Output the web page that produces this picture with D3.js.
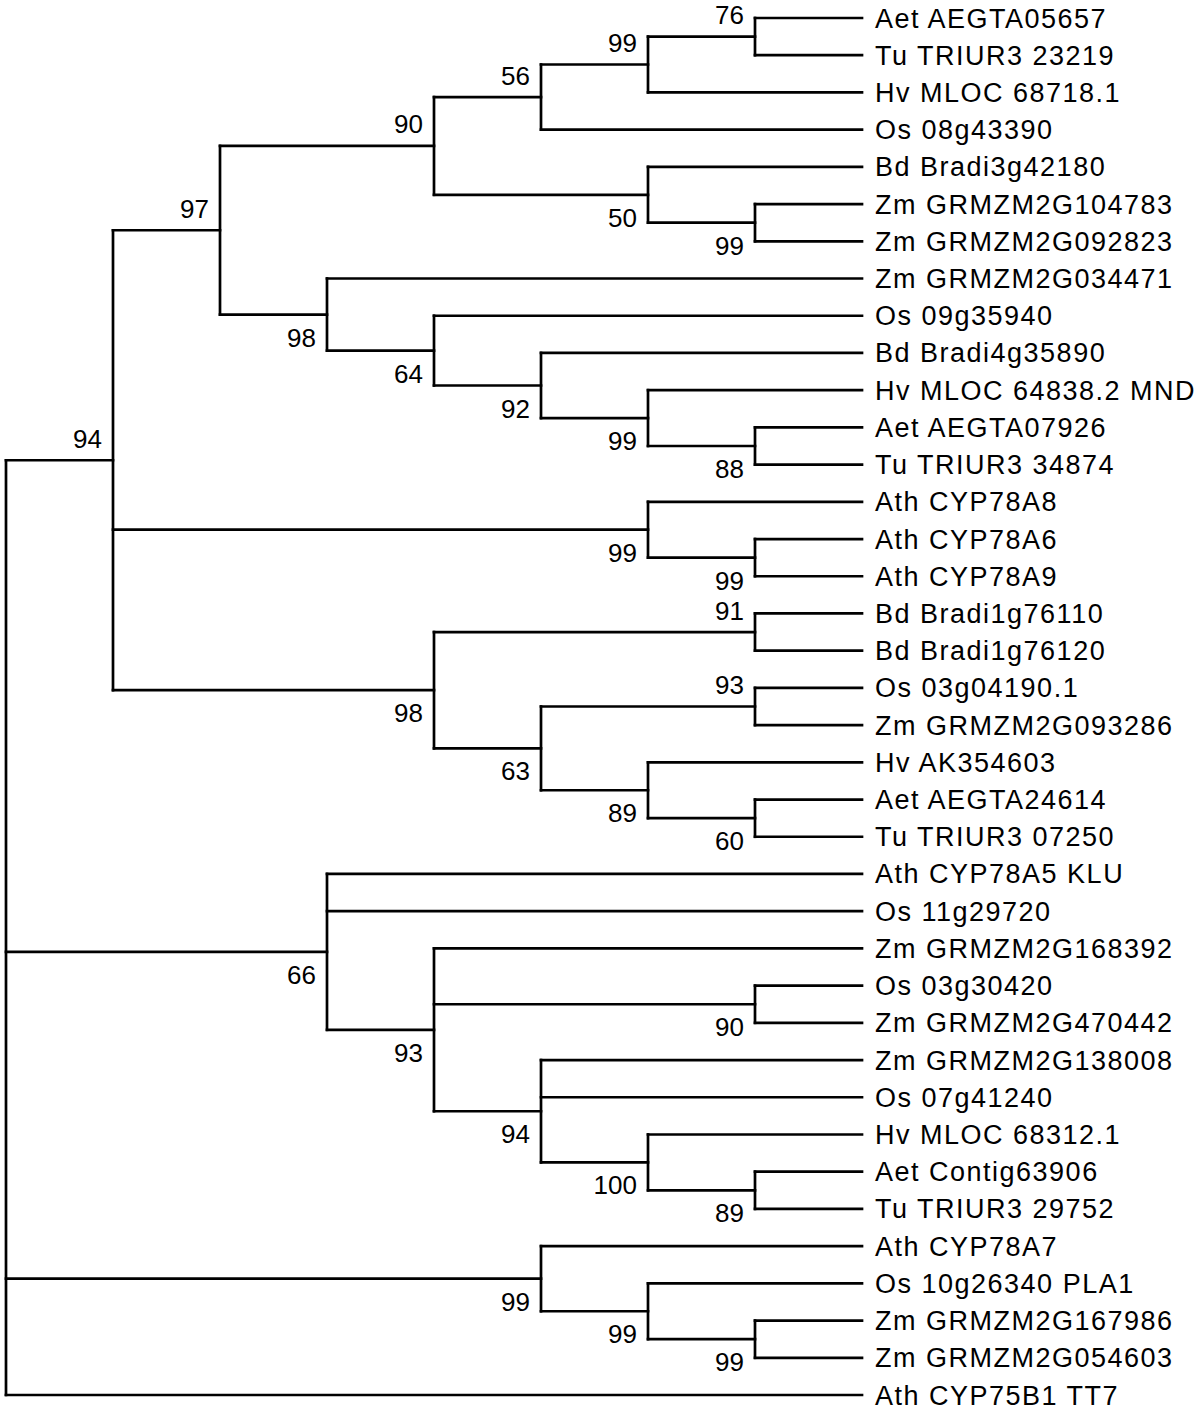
<!DOCTYPE html>
<html>
<head>
<meta charset="utf-8">
<script src="https://cdn.jsdelivr.net/npm/d3@7"></script>
<style>
  html, body { margin: 0; padding: 0; background: #fff; }
  svg { display: block; }
</style>
</head>
<body>
<svg id="chart" width="1200" height="1411"></svg>
<script>
// ---- DATA ----
const leafNames = [
  "Aet AEGTA05657", "Tu TRIUR3 23219", "Hv MLOC 68718.1", "Os 08g43390",
  "Bd Bradi3g42180", "Zm GRMZM2G104783", "Zm GRMZM2G092823", "Zm GRMZM2G034471",
  "Os 09g35940", "Bd Bradi4g35890", "Hv MLOC 64838.2 MND", "Aet AEGTA07926",
  "Tu TRIUR3 34874", "Ath CYP78A8", "Ath CYP78A6", "Ath CYP78A9",
  "Bd Bradi1g76110", "Bd Bradi1g76120", "Os 03g04190.1", "Zm GRMZM2G093286",
  "Hv AK354603", "Aet AEGTA24614", "Tu TRIUR3 07250", "Ath CYP78A5 KLU",
  "Os 11g29720", "Zm GRMZM2G168392", "Os 03g30420", "Zm GRMZM2G470442",
  "Zm GRMZM2G138008", "Os 07g41240", "Hv MLOC 68312.1", "Aet Contig63906",
  "Tu TRIUR3 29752", "Ath CYP78A7", "Os 10g26340 PLA1", "Zm GRMZM2G167986",
  "Zm GRMZM2G054603", "Ath CYP75B1 TT7"
];
// topology (leaf indices) with bootstrap support values on internal nodes
const treeNewick =
  "(((((((0,1)76,2)99,3)56,(4,(5,6)99)50)90,(7,(8,(9,(10,(11,12)88)99)92)64)98)97," +
  "(13,(14,15)99)99,((16,17)91,((18,19)93,(20,(21,22)60)89)63)98)94," +
  "(23,24,(25,(26,27)90,(28,29,(30,(31,32)89)100)94)93)66," +
  "(33,(34,(35,36)99)99)99,37);";

// ---- PARSE ----
function parseNewick(s) {
  let i = 0;
  function node() {
    const n = {};
    if (s[i] === "(") {
      i++;
      n.children = [];
      n.children.push(node());
      while (s[i] === ",") { i++; n.children.push(node()); }
      i++; // ')'
    }
    let label = "";
    while (i < s.length && !",();".includes(s[i])) label += s[i++];
    if (n.children) n.support = label; else n.leaf = +label;
    return n;
  }
  return node();
}

const root = d3.hierarchy(parseNewick(treeNewick));

// ---- SCALES ----
const xScale = d3.scaleLinear().domain([root.height, 0]).range([6, 862]);
const yScale = d3.scaleLinear().domain([0, leafNames.length - 1]).range([18, 1395]);

root.eachAfter(n => {
  n.px = xScale(n.height);
  if (!n.children) n.py = yScale(n.data.leaf);
  else n.py = (n.children[0].py + n.children[n.children.length - 1].py) / 2;
});

const svg = d3.select("#chart");
svg.append("rect").attr("width", 1200).attr("height", 1411).attr("fill", "#fff");

const g = svg.append("g");

// vertical connectors
g.selectAll("path.v")
  .data(root.descendants().filter(d => d.children))
  .join("path")
  .attr("class", "v")
  .attr("d", d => `M${d.px},${d.children[0].py}V${d.children[d.children.length - 1].py}`)
  .attr("stroke", "#000").attr("stroke-width", 2.7).attr("fill", "none")
  .attr("stroke-linecap", "square");

// horizontal branches
g.selectAll("path.h")
  .data(root.descendants().filter(d => d.parent))
  .join("path")
  .attr("class", "h")
  .attr("d", d => `M${d.parent.px},${d.py}H${d.px}`)
  .attr("stroke", "#000").attr("stroke-width", 2.7).attr("fill", "none")
  .attr("stroke-linecap", "square");

// leaf labels
g.selectAll("text.leaf")
  .data(root.leaves())
  .join("text")
  .attr("class", "leaf")
  .attr("x", d => d.px + 13)
  .attr("y", d => d.py + 9.5)
  .attr("font-family", "'Liberation Sans', Arial, sans-serif")
  .attr("font-size", 27)
  .attr("letter-spacing", 1.5)
  .attr("fill", "#000")
  .text(d => leafNames[d.data.leaf]);

// bootstrap labels
g.selectAll("text.bs")
  .data(root.descendants().filter(d => d.parent && d.children && d.data.support))
  .join("text")
  .attr("class", "bs")
  .attr("x", d => d.px - 11)
  .attr("y", d => d.parent.children[0] === d ? d.py - 12.5 : d.py + 32)
  .attr("text-anchor", "end")
  .attr("font-family", "'Liberation Sans', Arial, sans-serif")
  .attr("font-size", 26)
  .attr("fill", "#000")
  .text(d => d.data.support);
</script>
</body>
</html>
